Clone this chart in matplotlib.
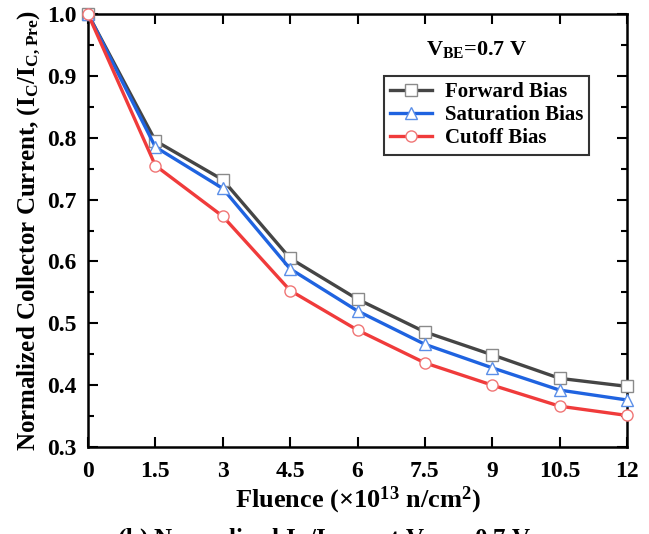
import matplotlib
matplotlib.use("Agg")
import matplotlib.pyplot as plt

plt.rcParams['font.family'] = 'Liberation Serif'
plt.rcParams['font.weight'] = 'bold'
plt.rcParams['mathtext.fontset'] = 'custom'
plt.rcParams['mathtext.rm'] = 'Liberation Serif:bold'
plt.rcParams['mathtext.bf'] = 'Liberation Serif:bold'
plt.rcParams['mathtext.it'] = 'Liberation Serif:bold'
plt.rcParams['mathtext.default'] = 'rm'

# fluence values (x1e13 n/cm^2)
fluence = [0, 1.5, 3, 4.5, 6, 7.5, 9, 10.5, 12]
forward = [1.0, 0.795, 0.732, 0.605, 0.539, 0.486, 0.449, 0.411, 0.398]
saturation = [1.0, 0.785, 0.718, 0.588, 0.520, 0.466, 0.428, 0.392, 0.376]
cutoff = [1.0, 0.755, 0.673, 0.553, 0.489, 0.436, 0.400, 0.366, 0.351]
xticks = [0, 1.5, 3, 4.5, 6, 7.5, 9, 10.5, 12]
xticklabels = ['0', '1.5', '3', '4.5', '6', '7.5', '9', '10.5', '12']

fig = plt.figure(figsize=(6.49, 5.34), dpi=100)
ax = fig.add_axes([88/649, 1-447/534, (627-88)/649, (447-14)/534])

ax.plot(fluence, forward, '-s', color='#454545', lw=2.4, ms=8,
        mfc='white', mec='#8a8a8a', mew=1.0, label='Forward Bias', clip_on=False, zorder=3)
ax.plot(fluence, saturation, '-^', color='#1f63e0', lw=2.4, ms=9,
        mfc='white', mec='#5b8fe8', mew=1.0, label='Saturation Bias', clip_on=False, zorder=3)
ax.plot(fluence, cutoff, '-o', color='#f03b3b', lw=2.4, ms=8,
        mfc='white', mec='#f07575', mew=1.0, label='Cutoff Bias', clip_on=False, zorder=3)

ax.set_xlim(0, 12)
ax.set_ylim(0.3, 1.0)
ax.set_xticks(xticks)
ax.set_xticklabels(xticklabels)
ax.set_yticks([0.3, 0.4, 0.5, 0.6, 0.7, 0.8, 0.9, 1.0])
ax.set_yticks([0.35, 0.45, 0.55, 0.65, 0.75, 0.85, 0.95], minor=True)
ax.tick_params(which='both', direction='in', top=True, right=True, width=1.5, labelsize=17)
ax.tick_params(which='major', length=7)
ax.tick_params(which='minor', length=4)
ax.tick_params(axis='x', pad=10)
ax.tick_params(axis='y', pad=8)
for s in ax.spines.values():
    s.set_linewidth(1.8)

ax.set_xlabel(r'Fluence ($\times$10$^{13}$ n/cm$^{2}$)', fontsize=19, fontweight='bold', labelpad=2)
ax.set_ylabel(r'Normalized Collector Current, (I$_C$/I$_{C}$$_{,Pre}$)', fontsize=18, fontweight='bold', labelpad=3)

ax.text(0.722, 0.917, r'V$_{BE}$=0.7 V', transform=ax.transAxes, ha='center', va='center', fontsize=16, fontweight='bold')

leg = ax.legend(loc='upper right', bbox_to_anchor=(0.93, 0.857), fontsize=15, frameon=True,
                fancybox=False, edgecolor='black', handlelength=2.0, borderpad=0.3, labelspacing=0.15,
                handletextpad=0.6, borderaxespad=0)
leg.get_frame().set_linewidth(1.5)

fig.text(0.5, -0.012, r'(b) Normalized I$_C$/I$_{C,Pre}$ at V$_{BE}$ = 0.7 V', ha='center', va='center', fontsize=18, fontweight='bold')

fig.savefig('out.png', dpi=100)
